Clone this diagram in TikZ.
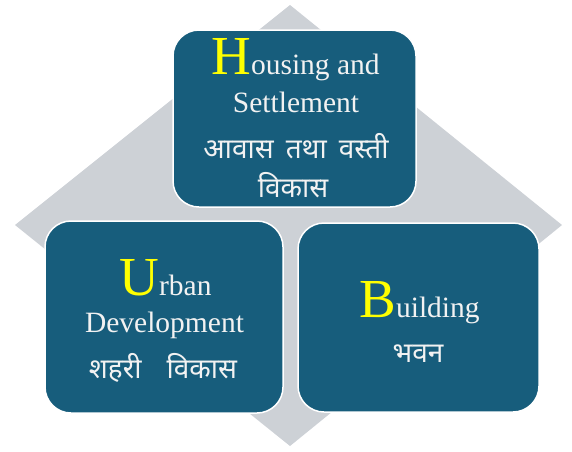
\documentclass[tikz,border=0pt]{standalone}
\usepackage{fontspec}
\setmainfont{Liberation Serif}
\newfontfamily\deva[Script=Devanagari]{Noto Sans}
\definecolor{boxblue}{HTML}{175D7C}
\definecolor{diamondgrey}{HTML}{CDD1D6}
\definecolor{capyellow}{HTML}{FFFF00}
\definecolor{txtwhite}{HTML}{F2F2F2}
\newcommand{\initcap}[1]{{\color{capyellow}\fontsize{55}{55}\selectfont #1}}
\tikzset{
  tile/.style={draw=white, line width=1.5pt, fill=boxblue, rounded corners=26pt, inner sep=0pt},
  entxt/.style={text=txtwhite, anchor=base, inner sep=0pt, font=\fontsize{29.5}{36}\selectfont},
  hitxt/.style={text=txtwhite, anchor=base, inner sep=0pt, font=\deva\fontsize{28}{34}\selectfont},
}
\begin{document}
\begin{tikzpicture}[x=1pt,y=-1pt]
\useasboundingbox (0,0) rectangle (572,451);
\fill[diamondgrey] (290,5) -- (562,225) -- (290,446) -- (15,225) -- cycle;
\node[tile, minimum width=243pt, minimum height=177pt] (housing) at (294.5,118.5) {};
\node[tile, minimum width=238pt, minimum height=192pt] (urban) at (164,317) {};
\node[tile, minimum width=241pt, minimum height=189pt] (building) at (418.5,317.5) {};
% housing
\node[entxt] (h1) at (295.5,74) {\initcap{H}ousing and};
\node[entxt] (h2) at (296,112) {Settlement};
\node[hitxt] (h3) at (296,158) {आवास\hspace{12pt}तथा\hspace{12pt}वस्ती};
\node[hitxt] (h4) at (293,197) {विकास};
% urban
\node[entxt] (u1) at (165.5,295) {\initcap{U}rban};
\node[entxt] (u2) at (164.5,332) {Development};
\node[hitxt] (u3) at (163,378) {शहरी\hspace{25pt}विकास};
% building
\node[entxt] (b1) at (419.5,317) {\initcap{B}uilding};
\node[hitxt] (b2) at (418,362) {भवन};
\end{tikzpicture}
\end{document}
